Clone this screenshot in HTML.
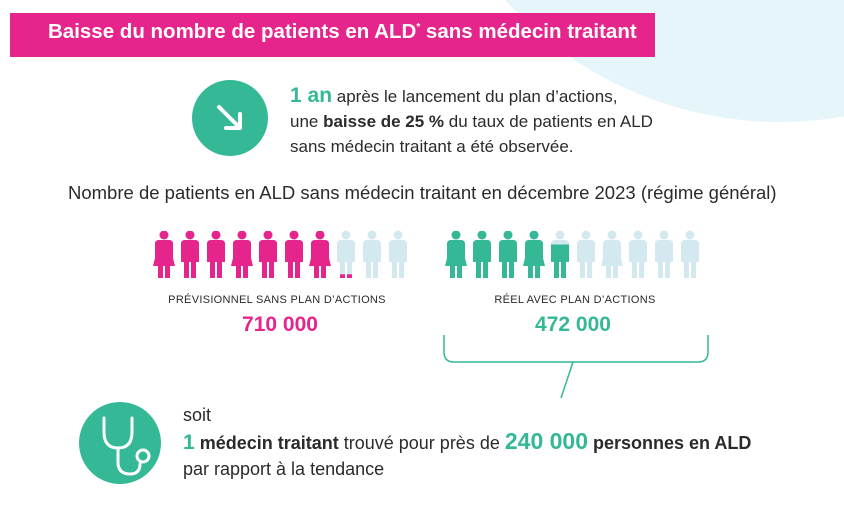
<!DOCTYPE html>
<html><head><meta charset="utf-8"><style>
body{margin:0;width:844px;height:513px;overflow:hidden;background:#fff;font-family:"Liberation Sans",sans-serif;position:relative}
.t{position:absolute;white-space:nowrap;color:#2b2b2b}
</style></head><body>
<svg width="844" height="513" style="position:absolute;left:0;top:0">
<circle cx="780" cy="-249" r="371" fill="#e5f5fa"/>
<rect x="10" y="13" width="645" height="44" fill="#e5258c"/>
<circle cx="230" cy="118" r="38" fill="#34b896"/>
<path d="M219 107 L240 128 M240 114 L240 128 L226 128" stroke="#fff" stroke-width="4" fill="none" stroke-linecap="round" stroke-linejoin="round"/>
<g id="people"></g>
<path d="M444 335 V352 Q444 362 454 362 H698 Q708 362 708 352 V335" stroke="#34b896" stroke-width="1.5" fill="none"/>
<line x1="573" y1="362" x2="561" y2="398" stroke="#34b896" stroke-width="1.5"/>
<circle cx="120" cy="443" r="41" fill="#34b896"/>
<path d="M104 418 V432 Q104 448 118 448 Q132 448 132 432 V418 M118 448 V462 Q118 474 130 474 Q140 474 140 464" stroke="#fff" stroke-width="3" fill="none" stroke-linecap="round"/>
<circle cx="143" cy="456" r="6" stroke="#fff" stroke-width="3" fill="none"/>
</svg>
<div class="t" style="left:48px;top:20px;font-size:20.5px;font-weight:bold;color:#fff">Baisse du nombre de patients en ALD<sup style="font-size:10px">*</sup> sans médecin traitant</div>
<div class="t" style="left:290px;top:83px;font-size:17px;line-height:25px">
<span style="color:#34b896;font-size:21px;font-weight:bold">1 an</span> après le lancement du plan d’actions,<br>une <b>baisse de 25 %</b> du taux de patients en ALD<br>sans médecin traitant a été observée.</div>
<div class="t" style="left:68px;top:182px;font-size:18.5px">Nombre de patients en ALD sans médecin traitant en décembre 2023 (régime général)</div>
<div class="t" style="left:277px;top:294px;font-size:11px;transform:translateX(-50%);letter-spacing:.3px">PRÉVISIONNEL SANS PLAN D’ACTIONS</div>
<div class="t" style="left:280px;top:313px;font-size:21px;font-weight:bold;color:#e5258c;transform:translateX(-50%)">710 000</div>
<div class="t" style="left:575px;top:294px;font-size:11px;transform:translateX(-50%);letter-spacing:.3px">RÉEL AVEC PLAN D’ACTIONS</div>
<div class="t" style="left:573px;top:313px;font-size:21px;font-weight:bold;color:#34b896;transform:translateX(-50%)">472 000</div>
<div class="t" style="left:183px;top:402px;font-size:18px;line-height:26px">soit<br><span style="color:#34b896;font-weight:bold;font-size:21px">1</span> <b>médecin traitant</b> trouvé pour près de <span style="color:#34b896;font-weight:bold;font-size:23px">240 000</span> <b>personnes en ALD</b><br>par rapport à la tendance</div>
<script>
const groups=["previsionnel","reel"];
const values=[7.1,4.72];
const totals=[10,10];
const colors=["#e5258c","#34b896"];
const starts=[164,456];
const NS="http://www.w3.org/2000/svg";
const g=document.getElementById("people");
function fig(cx,woman,col){
 const s=document.createElementNS(NS,"g");
 let d=`M${cx-9} 244 Q${cx-9} 240 ${cx-5} 240 H${cx+5} Q${cx+9} 240 ${cx+9} 244 V262 H${cx-9}Z`;
 if(woman) d+=`M${cx-9} 258 H${cx+9} L${cx+11} 266 H${cx-11}Z`;
 d+=`M${cx-6} 262 H${cx-1} V278 H${cx-6}Z M${cx+1} 262 H${cx+6} V278 H${cx+1}Z`;
 const p=document.createElementNS(NS,"path");p.setAttribute("d",d);p.setAttribute("fill",col);
 const c=document.createElementNS(NS,"circle");c.setAttribute("cx",cx);c.setAttribute("cy",235);c.setAttribute("r",4.5);c.setAttribute("fill",col);
 s.appendChild(c);s.appendChild(p);return s;
}
const pattern=[1,0,0,1,0,0,1,0,0,0];
groups.forEach((gr,gi)=>{
 for(let i=0;i<totals[gi];i++){
  const cx=starts[gi]+i*26;
  const wrap=document.createElementNS(NS,"g");
  
  
  wrap.appendChild(fig(cx,pattern[i],"#d3e8ef"));
  const frac=Math.max(0,Math.min(1,values[gi]-i));
  if(frac>0){
   const id="cp"+gi+"_"+i;
   const cp=document.createElementNS(NS,"clipPath");cp.setAttribute("id",id);
   const r=document.createElementNS(NS,"rect");const h=48*frac;
   r.setAttribute("x",cx-14);r.setAttribute("y",279-h);r.setAttribute("width",28);r.setAttribute("height",h);
   cp.appendChild(r);wrap.appendChild(cp);
   const f=fig(cx,pattern[i],colors[gi]);f.setAttribute("clip-path","url(#"+id+")");wrap.appendChild(f);
  }
  g.appendChild(wrap);
 }
});
</script>
</body></html>
